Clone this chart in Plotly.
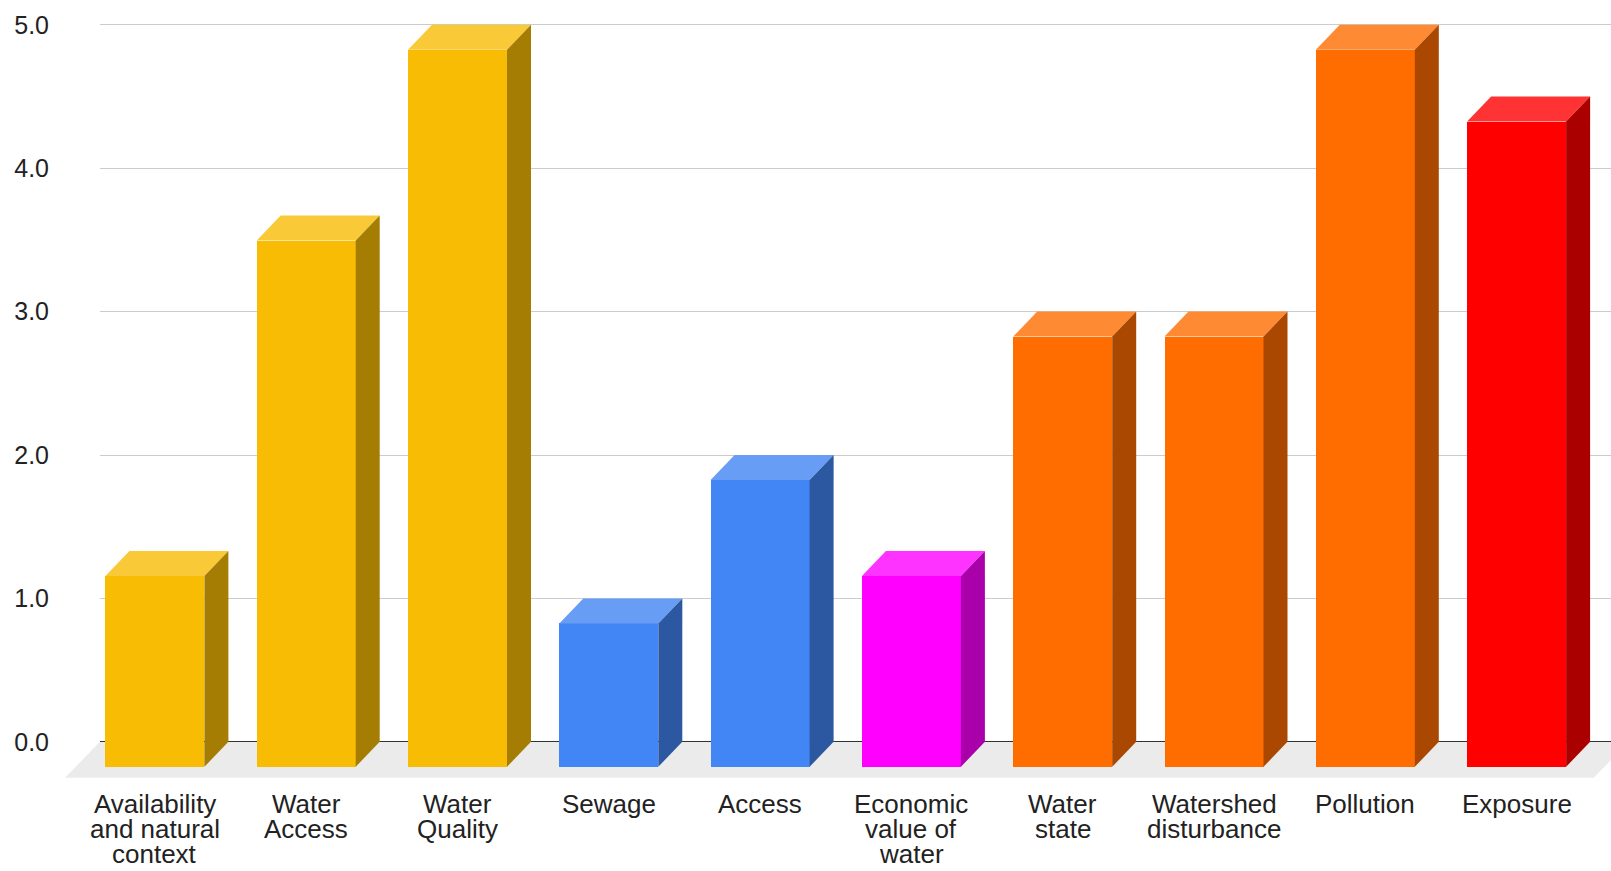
import plotly.graph_objects as go

# ---------------- data ----------------
category_lines = [
    ["Availability", "and natural", "context"],
    ["Water", "Access"],
    ["Water", "Quality"],
    ["Sewage"],
    ["Access"],
    ["Economic", "value of", "water"],
    ["Water", "state"],
    ["Watershed", "disturbance"],
    ["Pollution"],
    ["Exposure"],
]
values = [1.33, 3.67, 5.0, 1.0, 2.0, 1.33, 3.0, 3.0, 5.0, 4.5]
front_colors = ["#F9BC05", "#F9BC05", "#F9BC05", "#4285F4", "#4285F4",
                "#FF00FF", "#FF6D01", "#FF6D01", "#FF6D01", "#FF0000"]
y_tick_values = [0, 1, 2, 3, 4, 5]
y_tick_labels = ["0.0", "1.0", "2.0", "3.0", "4.0", "5.0"]

# ---------------- geometry (pixels) ----------------
W, H = 1611, 871
PLOT_LEFT = 100.0
PLOT_BOTTOM = 780.0
X0_PX = 154.9        # centre of first bar's front face
STEP_PX = 151.3      # distance between bars
BASE_PX = 741.8      # y pixel of value 0 on back wall
UNIT_PX = 143.4      # pixels per unit
BAR_W_PX = 99.0
DEPTH_X_PX, DEPTH_Y_PX = 24.0, 25.0
FLOOR_DX_PX, FLOOR_DY_PX = 35.0, 36.0
LABEL_FIRST_MID_PX = 804.0
LABEL_LINE_PX = 25.0
FONT = "Liberation Sans, Arial, sans-serif"

x_range = [(PLOT_LEFT - X0_PX) / STEP_PX, (W - X0_PX) / STEP_PX]
y_range = [-(PLOT_BOTTOM - BASE_PX) / UNIT_PX, BASE_PX / UNIT_PX]
hw = BAR_W_PX / STEP_PX / 2
dx = DEPTH_X_PX / STEP_PX
dy = DEPTH_Y_PX / UNIT_PX


def shade(hexcol, f):
    r, g, b = (int(hexcol[i:i + 2], 16) for i in (1, 3, 5))
    if f >= 1:  # lighten toward white
        t = f - 1
        r, g, b = (round(c + (255 - c) * t) for c in (r, g, b))
    else:
        r, g, b = (round(c * f) for c in (r, g, b))
    return "#%02X%02X%02X" % (r, g, b)


n = len(values)
xs = list(range(n))

fig = go.Figure()

# front faces
fig.add_trace(go.Bar(
    x=xs, y=values, base=[-dy] * n, width=[2 * hw] * n,
    marker=dict(color=front_colors, line=dict(width=0)),
    hoverinfo="skip", showlegend=False,
))

# top and side faces
for i, v in enumerate(values):
    c = front_colors[i]
    top_x = [i - hw, i + hw, i + hw + dx, i - hw + dx, i - hw]
    top_y = [v - dy, v - dy, v, v, v - dy]
    fig.add_trace(go.Scatter(
        x=top_x, y=top_y, mode="lines", fill="toself",
        fillcolor=shade(c, 1.2), line=dict(width=0, color=shade(c, 1.2)),
        hoverinfo="skip", showlegend=False,
    ))
    side_x = [i + hw, i + hw + dx, i + hw + dx, i + hw, i + hw]
    side_y = [-dy, 0, v, v - dy, -dy]
    fig.add_trace(go.Scatter(
        x=side_x, y=side_y, mode="lines", fill="toself",
        fillcolor=shade(c, 0.665), line=dict(width=0, color=shade(c, 0.665)),
        hoverinfo="skip", showlegend=False,
    ))

# floor (paper coordinates derived from the axis mapping)
right_front_px = X0_PX + STEP_PX * (n - 1 + 0.51)
pts = [
    (PLOT_LEFT, BASE_PX),
    (right_front_px + FLOOR_DX_PX, BASE_PX),
    (right_front_px, BASE_PX + FLOOR_DY_PX),
    (PLOT_LEFT - FLOOR_DX_PX, BASE_PX + FLOOR_DY_PX),
]
path = "M " + " L ".join(f"{px / W:.5f},{1 - py / H:.5f}" for px, py in pts) + " Z"
fig.add_shape(type="path", path=path, xref="paper", yref="paper",
              fillcolor="#EBEBEB", line=dict(width=0), layer="below")

# category labels, one annotation per line (25px line spacing)
annotations = []
for i, lines in enumerate(category_lines):
    for j, txt in enumerate(lines):
        annotations.append(dict(
            x=i, xref="x",
            y=1 - (LABEL_FIRST_MID_PX + j * LABEL_LINE_PX) / H, yref="paper",
            text=txt, showarrow=False, xanchor="center", yanchor="middle",
            font=dict(family=FONT, size=26, color="#222222"),
        ))

fig.update_layout(
    width=W, height=H,
    margin=dict(l=0, r=0, t=0, b=0),
    paper_bgcolor="white", plot_bgcolor="rgba(0,0,0,0)",
    bargap=0,
    annotations=annotations,
    xaxis=dict(domain=[PLOT_LEFT / W, 1], range=x_range, showgrid=False,
               zeroline=False, showticklabels=False, ticks="",
               showline=False, fixedrange=True),
    yaxis=dict(domain=[1 - PLOT_BOTTOM / H, 1], range=y_range,
               tickvals=y_tick_values, ticktext=y_tick_labels,
               showgrid=True, gridcolor="#CCCCCC", gridwidth=1,
               zeroline=True, zerolinecolor="#333333", zerolinewidth=1.3,
               ticks="", ticklabelstandoff=50, showline=False,
               tickfont=dict(family=FONT, size=25, color="#222222"),
               fixedrange=True),
)

fig.write_html("out.html")
